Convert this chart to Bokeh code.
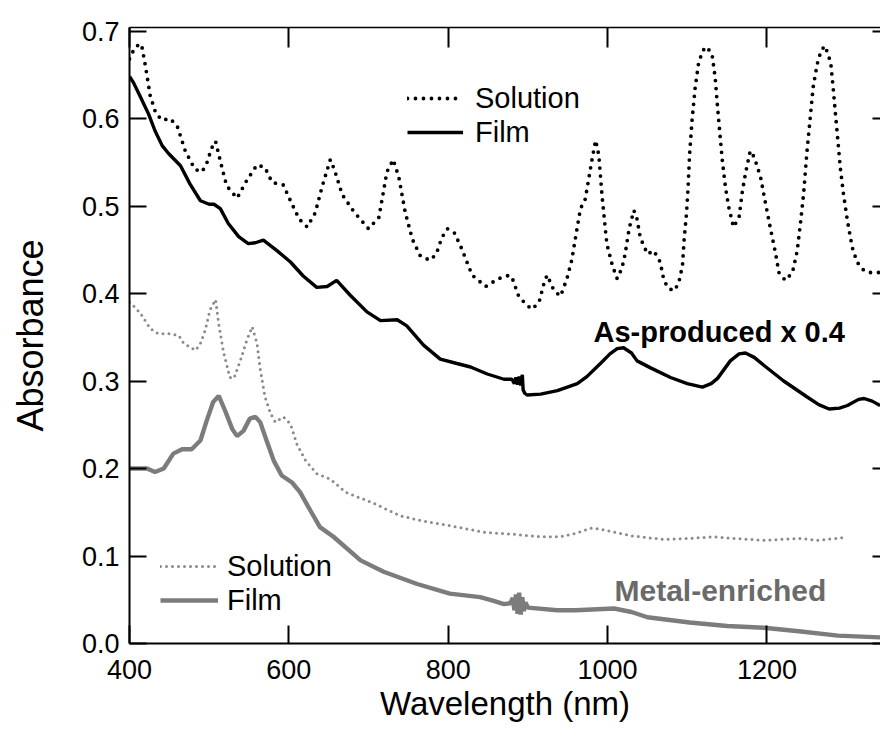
from bokeh.plotting import figure
from bokeh.models import (Range1d, LinearAxis, FixedTicker, Legend, LegendItem, Label,
                          NumeralTickFormatter, CustomJSTickFormatter)
from bokeh.embed import file_html
from bokeh.resources import INLINE

# ---------------- data ----------------
x_ticks = [400, 600, 800, 1000, 1200]
y_ticks = [0.0, 0.1, 0.2, 0.3, 0.4, 0.5, 0.6, 0.7]

# As-produced (x 0.4), solution
asp_sol_wl = [400, 404, 409, 415, 420, 426, 433, 441, 451, 460, 470, 482, 491, 497, 503, 508, 516, 522,
              535, 547, 560, 570, 579, 593, 603, 613, 623, 633, 642, 652, 657, 667, 682, 700, 713, 719,
              723, 731, 738, 746, 755, 765, 777, 785, 792, 799, 808, 817, 830, 847, 863, 877, 881, 888,
              897, 905, 914, 920, 924, 928, 933, 941, 949, 955, 962, 966, 972, 978, 981, 985, 989, 993,
              999, 1006, 1012, 1018, 1022, 1027, 1033, 1037, 1041, 1050, 1058, 1066, 1070, 1075, 1083,
              1089, 1094, 1096, 1099, 1101, 1103, 1106, 1110, 1114, 1119, 1124, 1131, 1135, 1138, 1141,
              1144, 1148, 1152, 1158, 1165, 1169, 1173, 1179, 1184, 1192, 1198, 1204, 1211, 1215, 1223,
              1232, 1238, 1242, 1246, 1250, 1254, 1258, 1263, 1268, 1273, 1280, 1283, 1286, 1289, 1292,
              1296, 1301, 1307, 1313, 1322, 1330, 1342]
asp_sol_abs = [0.668, 0.676, 0.683, 0.685, 0.660, 0.626, 0.606, 0.598, 0.600, 0.591, 0.563, 0.542, 0.539,
               0.549, 0.566, 0.574, 0.544, 0.523, 0.509, 0.529, 0.547, 0.544, 0.527, 0.524, 0.504, 0.485,
               0.476, 0.492, 0.523, 0.553, 0.542, 0.513, 0.493, 0.474, 0.487, 0.518, 0.539, 0.553, 0.533,
               0.493, 0.462, 0.443, 0.438, 0.445, 0.464, 0.474, 0.469, 0.451, 0.421, 0.408, 0.417, 0.421,
               0.416, 0.398, 0.388, 0.382, 0.390, 0.411, 0.421, 0.413, 0.403, 0.397, 0.417, 0.438, 0.476,
               0.497, 0.508, 0.540, 0.556, 0.575, 0.558, 0.512, 0.457, 0.432, 0.417, 0.429, 0.445, 0.474,
               0.495, 0.485, 0.464, 0.445, 0.449, 0.436, 0.418, 0.407, 0.403, 0.411, 0.432, 0.461, 0.491,
               0.521, 0.560, 0.598, 0.636, 0.662, 0.677, 0.682, 0.674, 0.647, 0.613, 0.582, 0.552, 0.521,
               0.499, 0.476, 0.487, 0.516, 0.537, 0.563, 0.556, 0.533, 0.504, 0.476, 0.445, 0.424, 0.415,
               0.424, 0.449, 0.480, 0.514, 0.560, 0.598, 0.636, 0.662, 0.678, 0.683, 0.664, 0.636, 0.605,
               0.575, 0.544, 0.514, 0.483, 0.453, 0.436, 0.426, 0.424, 0.424]

# As-produced (x 0.4), film
asp_film_wl = [400, 405, 413, 424, 432, 441, 449, 464, 476, 489, 500, 506, 514, 524, 537, 549, 558, 568,
               585, 602, 618, 635, 648, 660, 677, 698, 715, 736, 748, 769, 790, 811, 828, 849, 870, 880,
               883, 885, 887, 889, 891, 893, 894, 896, 899, 916, 937, 962, 974, 991, 1003, 1012, 1020,
               1030, 1037, 1054, 1079, 1100, 1119, 1130, 1138, 1154, 1165, 1173, 1184, 1196, 1221, 1250,
               1265, 1278, 1291, 1301, 1315, 1322, 1332, 1342]
asp_film_abs = [0.648, 0.641, 0.626, 0.605, 0.586, 0.569, 0.560, 0.546, 0.525, 0.506, 0.502, 0.502, 0.497,
                0.480, 0.465, 0.457, 0.458, 0.461, 0.449, 0.436, 0.420, 0.407, 0.408, 0.415, 0.398, 0.379,
                0.369, 0.370, 0.363, 0.341, 0.325, 0.320, 0.316, 0.308, 0.302, 0.302, 0.297, 0.304, 0.296,
                0.305, 0.295, 0.307, 0.290, 0.286, 0.284, 0.285, 0.289, 0.297, 0.305, 0.320, 0.331, 0.337,
                0.338, 0.332, 0.323, 0.315, 0.304, 0.297, 0.293, 0.297, 0.303, 0.323, 0.331, 0.332, 0.327,
                0.318, 0.300, 0.282, 0.273, 0.268, 0.269, 0.272, 0.279, 0.280, 0.277, 0.272]

# Metal-enriched, solution
met_sol_wl = [400, 403, 414, 426, 436, 451, 462, 468, 483, 489, 495, 501, 508, 512, 518, 526, 531, 539,
              547, 554, 560, 564, 570, 577, 583, 593, 602, 610, 621, 635, 652, 671, 707, 740, 768, 800,
              846, 880, 916, 940, 960, 980, 995, 1030, 1070, 1100, 1133, 1160, 1196, 1240, 1265, 1296]
met_sol_abs = [0.390, 0.388, 0.377, 0.360, 0.354, 0.354, 0.352, 0.343, 0.335, 0.343, 0.358, 0.381, 0.393,
               0.365, 0.333, 0.304, 0.303, 0.323, 0.346, 0.362, 0.343, 0.314, 0.282, 0.263, 0.253, 0.259,
               0.251, 0.228, 0.209, 0.194, 0.188, 0.173, 0.160, 0.146, 0.140, 0.135, 0.127, 0.125, 0.122,
               0.122, 0.126, 0.132, 0.130, 0.123, 0.119, 0.120, 0.122, 0.120, 0.118, 0.120, 0.118, 0.121]

# Metal-enriched, film
met_film_wl = [400, 422, 432, 443, 455, 466, 478, 489, 497, 505, 512, 520, 529, 535, 543, 551, 558, 564,
               572, 581, 591, 604, 614, 627, 639, 656, 690, 719, 761, 802, 840, 856, 870, 878, 881, 883,
               885, 887, 889, 891, 893, 895, 897, 900, 937, 960, 1008, 1030, 1050, 1103, 1150, 1196, 1240,
               1289, 1342]
met_film_abs = [0.200, 0.200, 0.196, 0.200, 0.217, 0.222, 0.222, 0.232, 0.255, 0.276, 0.283, 0.266, 0.245,
                0.237, 0.243, 0.257, 0.259, 0.253, 0.232, 0.209, 0.192, 0.184, 0.173, 0.152, 0.133, 0.122,
                0.095, 0.082, 0.068, 0.057, 0.053, 0.049, 0.045, 0.046, 0.052, 0.038, 0.056, 0.034, 0.058,
                0.033, 0.053, 0.037, 0.047, 0.041, 0.038, 0.038, 0.040, 0.036, 0.030, 0.024, 0.020, 0.018,
                0.014, 0.009, 0.007]

FONT = "Liberation Sans"

p = figure(width=880, height=732, output_backend="svg", toolbar_location=None,
           x_range=Range1d(400, 1342.5), y_range=Range1d(0, 0.704),
           min_border_left=129, min_border_right=0, min_border_top=27, min_border_bottom=89)
p.grid.visible = False
p.outline_line_color = None
p.background_fill_color = "white"
p.border_fill_color = "white"

r_as_sol = p.line(asp_sol_wl, asp_sol_abs, line_color="black", line_width=3.8,
                  line_dash="0 8", line_cap="round")
r_as_film = p.line(asp_film_wl, asp_film_abs, line_color="black", line_width=3.4)
r_me_sol = p.line(met_sol_wl, met_sol_abs, line_color="#8a8a8a", line_width=3.0,
                  line_dash="0 6", line_cap="round")
r_me_film = p.line(met_film_wl, met_film_abs, line_color="#7c7c7c", line_width=4.4)

def style_axis(ax, tick_in):
    ax.axis_line_color = "black"
    ax.axis_line_width = 2
    ax.major_tick_line_color = "black"
    ax.major_tick_line_width = 2
    ax.major_tick_in = tick_in
    ax.major_tick_out = 0
    ax.minor_tick_line_color = None
    ax.major_label_text_font = FONT
    ax.major_label_text_font_size = "27px"
    ax.major_label_text_color = "black"
    ax.axis_label_text_font = FONT
    ax.axis_label_text_font_style = "normal"
    ax.axis_label_text_color = "black"

xa = p.xaxis[0]
xa.ticker = FixedTicker(ticks=x_ticks)
style_axis(xa, 18)
xa.major_label_standoff = 16
xa.axis_label = "Wavelength (nm)"
xa.axis_label_text_font_size = "33px"
xa.axis_label_standoff = 3

ya = p.yaxis[0]
ya.ticker = FixedTicker(ticks=y_ticks)
ya.formatter = NumeralTickFormatter(format="0.0")
style_axis(ya, 17)
ya.major_label_standoff = 10
ya.axis_label = "Absorbance"
ya.axis_label_text_font_size = "36px"
ya.axis_label_standoff = 28

blank = CustomJSTickFormatter(code="return '';")

top = LinearAxis(ticker=FixedTicker(ticks=x_ticks), formatter=blank)
style_axis(top, 20)
top.axis_line_width = 1.5
top.major_label_text_font_size = "2px"
top.major_label_standoff = 0
p.add_layout(top, "above")

right = LinearAxis(ticker=FixedTicker(ticks=y_ticks), formatter=blank)
style_axis(right, 8)
right.axis_line_color = None
right.major_label_text_font_size = "2px"
right.major_label_standoff = 0
p.add_layout(right, "right")

def make_legend(items, loc, gw, standoff):
    lg = Legend(items=items, location=loc)
    lg.label_text_font = FONT
    lg.label_text_font_size = "29px"
    lg.label_text_color = "black"
    lg.glyph_width = gw
    lg.glyph_height = 34
    lg.label_height = 34
    lg.spacing = 0
    lg.padding = 0
    lg.margin = 0
    lg.label_standoff = standoff
    lg.background_fill_alpha = 0
    lg.border_line_alpha = 0
    return lg

leg1 = make_legend([LegendItem(label="Solution", renderers=[r_as_sol]),
                    LegendItem(label="Film", renderers=[r_as_film])], (278, 494), 56, 12)
leg2 = make_legend([LegendItem(label="Solution", renderers=[r_me_sol]),
                    LegendItem(label="Film", renderers=[r_me_film])], (31, 26), 58, 9)
p.add_layout(leg1)
p.add_layout(leg2)

# screen coordinates are measured from the frame's bottom-left corner
lab1 = Label(x=464, y=312, x_units="screen", y_units="screen", text="As-produced x 0.4",
             text_font=FONT, text_font_size="29px", text_font_style="bold", text_color="black",
             text_baseline="alphabetic")
lab2 = Label(x=485, y=53, x_units="screen", y_units="screen", text="Metal-enriched",
             text_font=FONT, text_font_size="30px", text_font_style="bold", text_color="#6a6a6a",
             text_baseline="alphabetic")
p.add_layout(lab1)
p.add_layout(lab2)

open("out.html", "w").write(file_html(p, INLINE))
